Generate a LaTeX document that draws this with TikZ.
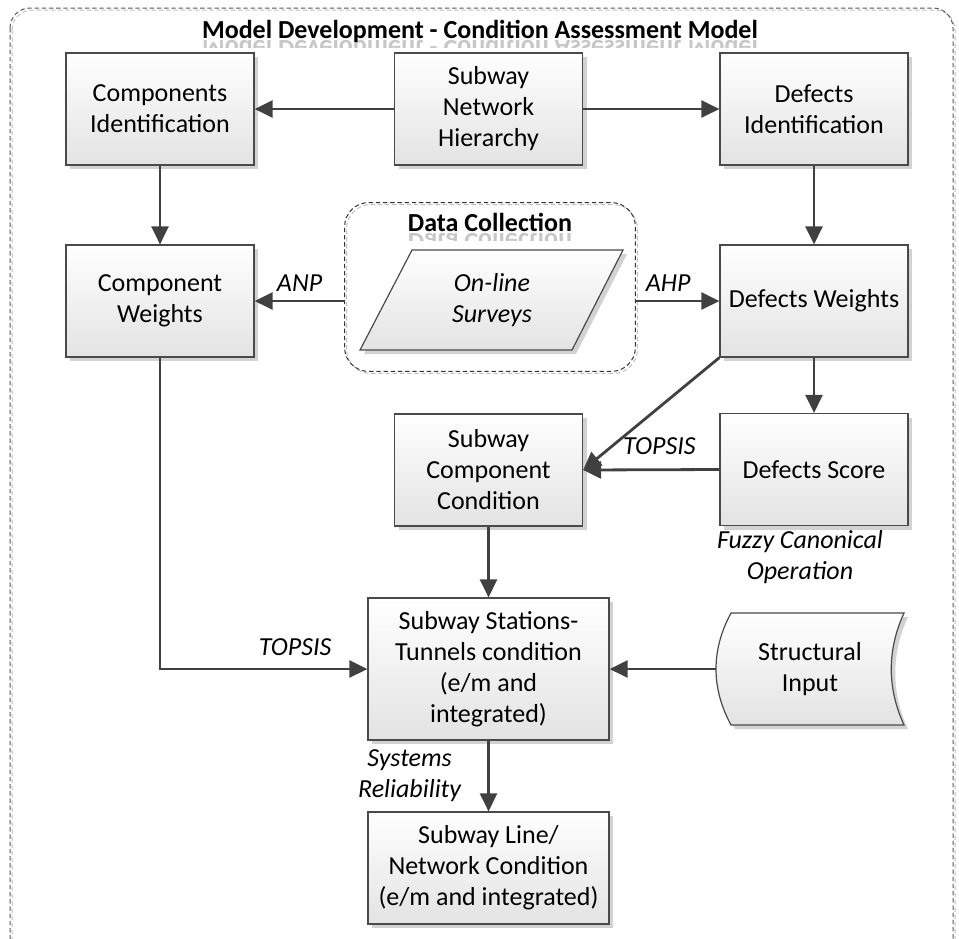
\documentclass[tikz,border=0pt]{standalone}
\usepackage{fontspec}
\setmainfont{Carlito}
\usetikzlibrary{arrows.meta,shadows,calc}

\definecolor{linegray}{HTML}{404040}
\definecolor{edgegray}{HTML}{4A4A4A}
\newcommand\boxfont{\fontsize{13}{15.5}\selectfont}

\tikzset{
  x=0.5pt, y=-0.5pt,
  boxshade/.style={top color=white, bottom color=black!11},
  boxshadow/.style={drop shadow={shadow xshift=2pt, shadow yshift=-2pt, fill=black!35, opacity=0.5}},
  box/.style={draw=edgegray, line width=0.6pt, boxshade, boxshadow,
    minimum width=94pt, minimum height=56pt, align=center, inner sep=2pt, font=\boxfont},
  plain/.style={minimum width=94pt, minimum height=56pt, align=center, inner sep=2pt, font=\boxfont},
  arr/.style={draw=linegray, line width=1.4pt, -{Triangle[length=9pt,width=8.5pt]}},
  lbl/.style={font=\itshape\boxfont, inner sep=1pt},
  frameline/.style={line width=0.5pt, dash pattern=on 2.2pt off 1.4pt},
  heading/.style={font=\bfseries\boxfont, anchor=base, inner sep=0pt},
  mirror/.style={font=\bfseries\boxfont, anchor=base, inner sep=0pt, text=black!22},
}

\begin{document}
\begin{tikzpicture}
\useasboundingbox (0,0) rectangle (959,938);

% outer frame
\draw[frameline, black!25, rounded corners=10pt] (12,10) rectangle (955,962);
\draw[frameline, black!65, rounded corners=10pt] (10,8) rectangle (953,960);

% main heading with its faint reflection
\begin{scope}
  \clip (150,39) rectangle (810,47);
  \node[mirror] (titlemirror) at (480,40) {\scalebox{1}[-1]{Model Development - Condition Assessment Model}};
\end{scope}
\node[heading] (title) at (480,38) {Model Development - Condition Assessment Model};

% top row
\node[box] (ci)  at (160,109)   {Components\\Identification};
\node[box] (snh) at (488.5,109) {Subway\\Network\\Hierarchy};
\node[box] (di)  at (814,109)   {Defects\\Identification};

% weights row
\node[box] (cw) at (160,301) {Component\\Weights};
\node[box] (dw) at (814,301) {Defects Weights};

% data collection group
\node[minimum width=145pt, minimum height=84pt] (dc) at (490,287) {};
\draw[frameline, black!25, rounded corners=12pt] ($(dc.south west)+(2,2)$) rectangle ($(dc.north east)+(2,2)$);
\draw[frameline, black!80, rounded corners=12pt] (dc.south west) rectangle (dc.north east);
\begin{scope}
  \clip (380,232) rectangle (600,240);
  \node[mirror] (dcmirror) at (490,233) {\scalebox{1}[-1]{Data Collection}};
\end{scope}
\node[heading] (dctitle) at (490,231) {Data Collection};
\path[draw=edgegray, line width=0.6pt, boxshade, boxshadow]
  (412,250) -- (623,250) -- (572,350) -- (360,350) -- cycle;
\node[plain, font=\itshape\boxfont, minimum width=0pt, minimum height=0pt] (surveys) at (492,300) {On-line\\Surveys};

% condition boxes
\node[box] (scc) at (488.5,470) {Subway\\Component\\Condition};
\node[box] (ds)  at (814,469.5) {Defects Score};
\node[box, minimum width=120.5pt, minimum height=71pt] (sst) at (488.5,669)
  {Subway Stations-\\Tunnels condition\\(e/m and\\integrated)};
\node[box, minimum width=120.5pt] (sln) at (488.5,868)
  {Subway Line/\\Network Condition\\(e/m and integrated)};

% structural input (curved-sided data shape)
\node[plain] (sin) at (810,669) {};
\path[draw=edgegray, line width=0.6pt, boxshade, boxshadow]
  (731,613) -- (904,613) .. controls (887,650) and (887,688) .. (904,725)
  -- (731,725) .. controls (711,688) and (711,650) .. (731,613) -- cycle;
\node[plain, minimum width=0pt, minimum height=0pt] (sintext) at (810,669) {Structural\\Input};

% connectors
\draw[arr] (snh.west) -- (ci.east);
\draw[arr] (snh.east) -- (di.west);
\draw[arr] (ci.south) -- (cw.north);
\draw[arr] (di.south) -- (dw.north);
\draw[arr] (cw.east -| dc.west) -- node[lbl, above=3pt] {ANP} (cw.east);
\draw[arr] (dw.west -| dc.east) -- node[lbl, above=3pt, pos=0.39] {AHP} (dw.west);
\draw[arr] (dw.south) -- (ds.north);
\draw[arr] (dw.south west) -- (scc.east);
\draw[arr] (ds.west) -- node[lbl, above=6pt, pos=0.44] {TOPSIS} (scc.east);
\draw[arr] (scc.south) -- (sst.north);
\draw[arr] (cw.south) |- node[lbl, above=5pt, pos=0.826] {TOPSIS} (sst.west);
\draw[arr] (sin.west) -- (sst.east);
\draw[arr] (sst.south) -- node[lbl, left=12pt, align=center] {Systems\\Reliability} (sln.north);

% operation note under the defects score
\node[lbl, align=center] (fuzzy) at (800,557) {Fuzzy Canonical\\Operation};

\end{tikzpicture}
\end{document}
